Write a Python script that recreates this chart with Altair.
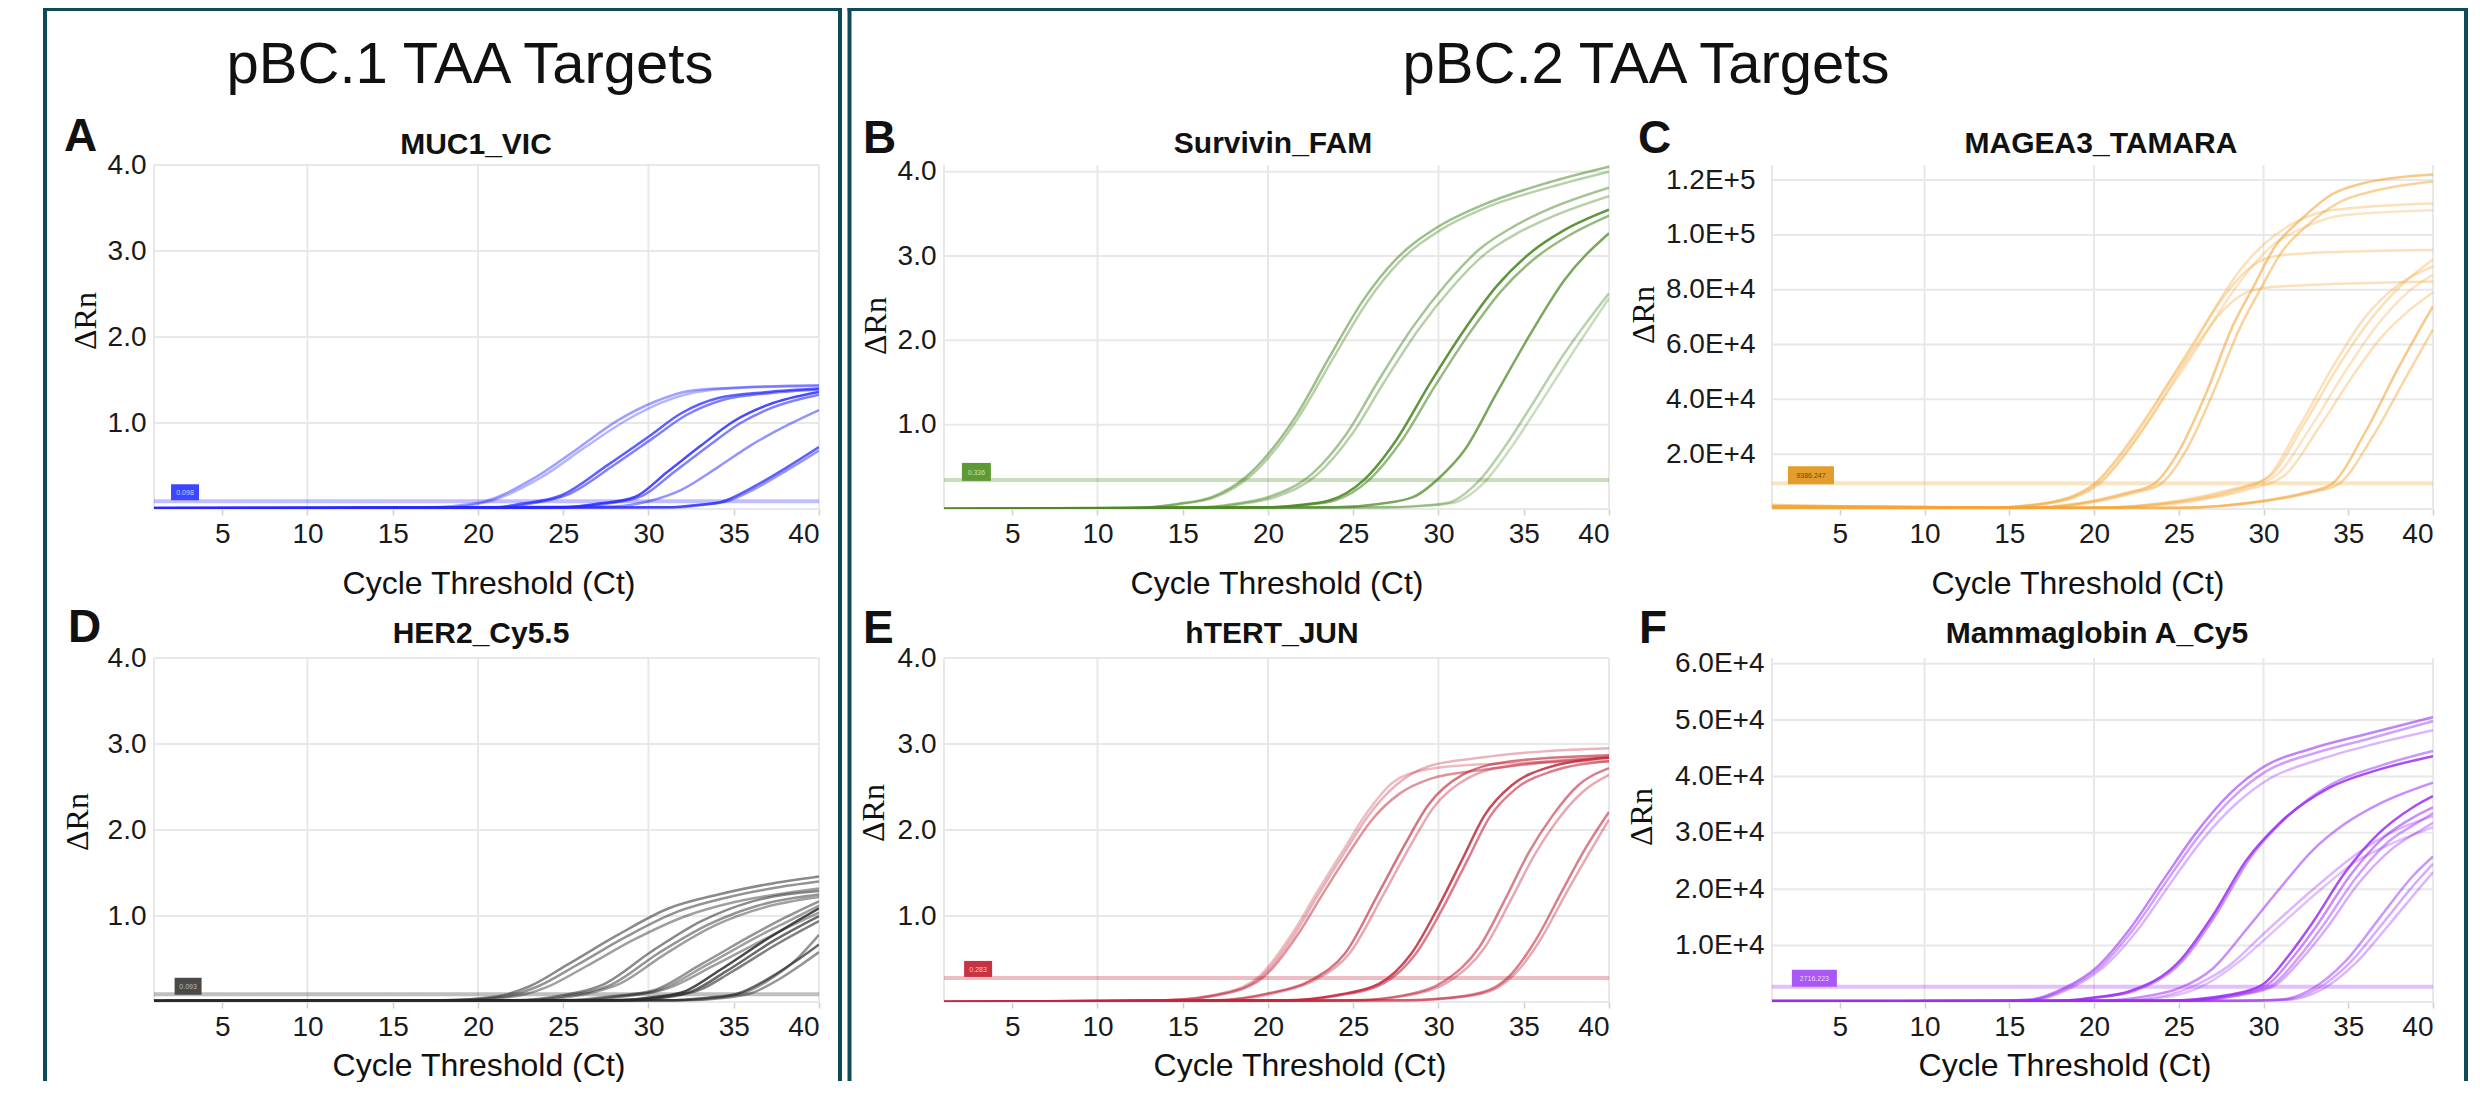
import altair as alt
import pandas as pd

# ---------------- data ----------------
CYCLE_TICKS = [5, 10, 15, 20, 25, 30, 35, 40]
GRID_CYCLES = [1, 10, 20, 30, 40]

# Panel A  MUC1_VIC  (cycle, dRn)
MUC1_CURVES = [
    [[1, 0.02], [17, 0.02], [20, 0.07], [23.3, 0.36], [25.9, 0.71], [28.2, 1.03], [30.4, 1.25], [32.3, 1.37], [35, 1.41], [40, 1.44]],
    [[1, 0.01], [18, 0.02], [20.5, 0.08], [23.8, 0.38], [26.3, 0.72], [28.6, 1.02], [30.8, 1.24], [32.8, 1.36], [35.5, 1.41], [40, 1.43]],
    [[1, 0.01], [21, 0.02], [22.5, 0.06], [24.9, 0.16], [27.6, 0.51], [30, 0.84], [31.9, 1.11], [34.1, 1.29], [37, 1.36], [40, 1.40]],
    [[1, 0.01], [21.5, 0.02], [23, 0.06], [25.3, 0.17], [27.9, 0.50], [30.3, 0.83], [32.2, 1.09], [34.4, 1.27], [37.2, 1.35], [40, 1.39]],
    [[1, 0.0], [25, 0.02], [27, 0.06], [29.2, 0.14], [31.1, 0.43], [33.1, 0.74], [35, 1.02], [37, 1.21], [40, 1.36]],
    [[1, 0.0], [25.5, 0.02], [27.5, 0.06], [29.6, 0.15], [31.5, 0.43], [33.5, 0.73], [35.4, 1.0], [37.4, 1.19], [40, 1.33]],
    [[1, 0.0], [28, 0.03], [30, 0.09], [31.9, 0.22], [34.1, 0.49], [36, 0.74], [38, 0.96], [40, 1.15]],
    [[1, 0.0], [31, 0.02], [33, 0.05], [34.3, 0.085], [36, 0.24], [38, 0.47], [40, 0.72]],
    [[1, 0.0], [31.5, 0.02], [33.3, 0.05], [34.6, 0.09], [36.2, 0.23], [38.2, 0.46], [40, 0.68]],
]
MUC1_OPACITY = [0.45, 0.35, 0.75, 0.6, 0.85, 0.6, 0.5, 0.75, 0.5]

# Panel B  Survivin_FAM
SURVIVIN_CURVES = [
    [[1, 0], [12, 0.01], [14.7, 0.06], [16.7, 0.14], [18.7, 0.38], [20, 0.65], [21.6, 1.09], [23.6, 1.8], [25.6, 2.48], [27.5, 2.96], [30, 3.35], [32.4, 3.59], [36.4, 3.87], [40, 4.06]],
    [[1, 0], [12, 0.01], [14.9, 0.06], [16.9, 0.14], [18.9, 0.38], [20.2, 0.65], [21.8, 1.09], [23.8, 1.78], [25.8, 2.45], [27.7, 2.93], [30.2, 3.32], [32.6, 3.56], [36.6, 3.82], [40, 4.0]],
    [[1, 0], [16, 0.02], [18, 0.06], [20, 0.14], [22.6, 0.42], [24.6, 0.89], [26.5, 1.53], [28.5, 2.16], [30.5, 2.68], [32.4, 3.08], [34.4, 3.35], [36.4, 3.55], [40, 3.81]],
    [[1, 0], [16.5, 0.02], [18.4, 0.06], [20.4, 0.14], [22.9, 0.41], [24.9, 0.88], [26.8, 1.5], [28.8, 2.12], [30.8, 2.63], [32.7, 3.02], [34.7, 3.28], [36.7, 3.47], [40, 3.71]],
    [[1, 0], [20, 0.02], [22, 0.05], [23.6, 0.1], [25.6, 0.34], [27.5, 0.81], [29.5, 1.49], [31.5, 2.12], [33.4, 2.64], [35.4, 3.04], [37.4, 3.31], [40, 3.55]],
    [[1, 0], [20.3, 0.02], [22.3, 0.05], [23.9, 0.1], [25.9, 0.34], [27.8, 0.8], [29.8, 1.46], [31.8, 2.08], [33.7, 2.59], [35.7, 2.98], [37.7, 3.25], [40, 3.48]],
    [[1, 0], [24, 0.02], [26.5, 0.06], [28.5, 0.14], [30.1, 0.38], [31.5, 0.69], [33.4, 1.37], [35.4, 2.08], [37.4, 2.72], [40, 3.27]],
    [[1, 0], [27, 0.02], [29, 0.04], [30.5, 0.07], [32.4, 0.34], [34, 0.77], [35.4, 1.21], [37.4, 1.85], [40, 2.56]],
    [[1, 0], [27.3, 0.02], [29.3, 0.04], [30.8, 0.07], [32.7, 0.32], [34.3, 0.74], [35.7, 1.17], [37.7, 1.8], [40, 2.5]],
]
SURVIVIN_OPACITY = [0.55, 0.4, 0.5, 0.4, 0.9, 0.6, 0.75, 0.4, 0.3]

# Panel C  MAGEA3_TAMARA  (dRn in units of 1E4)
MAGEA3_CURVES = [
    [[1, 0.15], [5, 0.1], [14, 0.05], [17, 0.2], [20, 0.9], [21.3, 1.8], [22.7, 3.0], [24.3, 4.5], [25.8, 5.9], [27.2, 7.4], [28.6, 8.7], [30.1, 9.7], [32, 10.5], [34, 10.9], [40, 11.15]],
    [[1, 0.15], [5, 0.1], [14, 0.05], [17.3, 0.2], [20.3, 0.9], [21.6, 1.8], [23, 3.0], [24.6, 4.5], [26.1, 5.9], [27.5, 7.3], [29, 8.6], [30.5, 9.6], [32.5, 10.3], [34.5, 10.7], [40, 10.9]],
    [[1, 0.1], [14, 0.05], [17, 0.2], [20, 0.9], [21.5, 1.9], [23, 3.2], [24.6, 4.8], [26.1, 6.3], [27.6, 7.7], [29, 8.7], [30.5, 9.2], [33, 9.35], [40, 9.45]],
    [[1, 0.1], [14, 0.05], [17.2, 0.2], [20.2, 0.9], [21.7, 1.9], [23.2, 3.2], [24.8, 4.8], [26.3, 6.2], [27.7, 7.3], [29, 7.9], [30.5, 8.1], [40, 8.3]],
    [[1, 0.1], [16, 0.05], [20, 0.3], [22, 0.6], [23.5, 0.9], [25, 2.1], [26.6, 4.2], [28.2, 6.7], [29.4, 8.1], [30.7, 9.6], [32.1, 10.5], [34.1, 11.5], [36, 11.9], [40, 12.2]],
    [[1, 0.1], [16.5, 0.05], [20.4, 0.3], [22.4, 0.6], [23.9, 0.9], [25.4, 2.1], [27, 4.2], [28.6, 6.6], [29.8, 8.0], [31.1, 9.4], [32.5, 10.3], [34.5, 11.2], [36.5, 11.6], [40, 11.95]],
    [[1, 0.05], [20, 0.05], [25, 0.3], [28, 0.7], [30.1, 1.1], [32.1, 3.0], [34.1, 5.2], [36, 7.0], [38, 8.2], [40, 8.85]],
    [[1, 0.05], [20, 0.05], [25.3, 0.3], [28.3, 0.7], [30.4, 1.2], [32.4, 3.1], [34.4, 5.2], [36.3, 6.9], [38.2, 8.2], [40, 9.1]],
    [[1, 0.05], [20, 0.05], [25.6, 0.3], [28.6, 0.7], [30.7, 1.2], [32.8, 3.0], [34.8, 5.0], [36.7, 6.7], [38.5, 7.9], [40, 8.55]],
    [[1, 0.05], [21, 0.05], [26, 0.3], [29, 0.7], [31.2, 1.2], [33.2, 2.9], [35.2, 4.8], [37, 6.3], [38.7, 7.3], [40, 7.9]],
    [[1, 0.05], [25, 0.05], [30, 0.3], [32.5, 0.6], [34, 0.9], [36, 2.8], [38, 5.2], [40, 7.4]],
    [[1, 0.05], [25, 0.05], [30.3, 0.3], [32.8, 0.6], [34.4, 0.9], [36.4, 2.6], [38.4, 4.8], [40, 6.55]],
]
MAGEA3_OPACITY = [0.35, 0.3, 0.35, 0.35, 0.6, 0.5, 0.35, 0.35, 0.3, 0.35, 0.6, 0.45]
MAGEA3_UNIT = 1e4

# Panel D  HER2_Cy5.5
HER2_CURVES = [
    [[1, 0.02], [18, 0.02], [21, 0.06], [23, 0.18], [25.3, 0.44], [28.2, 0.78], [31.2, 1.09], [34.1, 1.25], [37, 1.37], [40, 1.46]],
    [[1, 0.02], [18.5, 0.02], [21.5, 0.06], [23.5, 0.18], [25.8, 0.43], [28.7, 0.76], [31.7, 1.05], [34.5, 1.21], [37.2, 1.32], [40, 1.40]],
    [[1, 0.02], [19, 0.02], [22, 0.06], [24, 0.17], [26.3, 0.41], [29.2, 0.73], [32.2, 1.0], [35, 1.16], [37.5, 1.25], [40, 1.32]],
    [[1, 0.01], [22, 0.02], [25, 0.08], [27.3, 0.2], [30.2, 0.59], [33.1, 0.94], [36.1, 1.17], [40, 1.29]],
    [[1, 0.01], [22.5, 0.02], [25.5, 0.08], [27.8, 0.2], [30.6, 0.57], [33.5, 0.9], [36.4, 1.12], [40, 1.25]],
    [[1, 0.01], [23, 0.02], [26, 0.08], [28.3, 0.21], [31, 0.56], [33.9, 0.89], [36.8, 1.1], [40, 1.22]],
    [[1, 0.01], [25, 0.02], [28, 0.07], [30.2, 0.13], [33.1, 0.44], [36.1, 0.78], [38, 0.98], [40, 1.17]],
    [[1, 0.01], [25.5, 0.02], [28.4, 0.07], [30.6, 0.14], [33.5, 0.44], [36.4, 0.76], [38.3, 0.95], [40, 1.12]],
    [[1, 0.01], [26, 0.02], [28.8, 0.07], [31, 0.15], [33.8, 0.42], [36.7, 0.72], [38.5, 0.9], [40, 1.04]],
    [[1, 0.01], [28, 0.02], [30.5, 0.06], [32.2, 0.13], [34.1, 0.36], [37.1, 0.75], [40, 1.09]],
    [[1, 0.01], [28.5, 0.02], [31, 0.06], [32.6, 0.13], [34.5, 0.35], [37.4, 0.72], [40, 1.0]],
    [[1, 0.01], [29, 0.02], [31.3, 0.06], [33, 0.14], [34.8, 0.34], [37.6, 0.68], [40, 0.94]],
    [[1, 0.01], [31, 0.02], [33.5, 0.05], [35.1, 0.09], [37.1, 0.28], [38.6, 0.47], [40, 0.67]],
    [[1, 0.01], [31.5, 0.02], [34, 0.05], [35.5, 0.1], [37.4, 0.3], [38.8, 0.52], [40, 0.78]],
    [[1, 0.01], [32, 0.02], [34.5, 0.05], [36, 0.1], [37.7, 0.27], [39, 0.44], [40, 0.58]],
]
HER2_OPACITY = [0.55, 0.5, 0.45, 0.55, 0.5, 0.45, 0.5, 0.45, 0.45, 0.85, 0.7, 0.6, 0.7, 0.5, 0.5]

# Panel E  hTERT_JUN
HTERT_CURVES = [
    [[1, 0], [14, 0.02], [17.6, 0.11], [19.6, 0.29], [21.6, 0.8], [22.9, 1.23], [24.5, 1.74], [25.9, 2.17], [27.5, 2.52], [29.4, 2.74], [32.4, 2.84], [40, 2.95]],
    [[1, 0], [14, 0.02], [17.8, 0.11], [19.8, 0.3], [21.8, 0.8], [23.1, 1.22], [24.7, 1.72], [26.1, 2.12], [27.7, 2.42], [29.6, 2.6], [32.6, 2.7], [40, 2.85]],
    [[1, 0], [14, 0.02], [17.5, 0.11], [19.5, 0.3], [21.5, 0.82], [22.8, 1.25], [24.4, 1.76], [25.8, 2.2], [27.3, 2.55], [29.2, 2.7], [32, 2.76], [40, 2.8]],
    [[1, 0], [17, 0.02], [20, 0.1], [22.5, 0.25], [24.5, 0.56], [26.5, 1.27], [28, 1.82], [29.4, 2.29], [31.4, 2.64], [34.3, 2.8], [40, 2.87]],
    [[1, 0], [17.5, 0.02], [20.3, 0.1], [22.8, 0.26], [24.8, 0.57], [26.8, 1.26], [28.3, 1.8], [29.7, 2.26], [31.7, 2.6], [34.6, 2.76], [40, 2.84]],
    [[1, 0], [21, 0.02], [24, 0.08], [26.5, 0.21], [28.4, 0.56], [30, 1.11], [31.4, 1.66], [32.7, 2.17], [34.3, 2.52], [36.3, 2.72], [40, 2.84]],
    [[1, 0], [21.3, 0.02], [24.3, 0.08], [26.8, 0.22], [28.7, 0.57], [30.3, 1.11], [31.7, 1.65], [33, 2.15], [34.6, 2.49], [36.6, 2.68], [40, 2.8]],
    [[1, 0], [25, 0.02], [28, 0.08], [30.4, 0.25], [32.4, 0.64], [33.9, 1.19], [35.3, 1.74], [36.7, 2.17], [38.2, 2.52], [40, 2.72]],
    [[1, 0], [25.3, 0.02], [28.3, 0.08], [30.7, 0.25], [32.7, 0.63], [34.2, 1.17], [35.6, 1.7], [37, 2.12], [38.5, 2.45], [40, 2.64]],
    [[1, 0], [28, 0.02], [31.5, 0.07], [33.3, 0.17], [34.3, 0.33], [35.7, 0.72], [37.3, 1.31], [38.6, 1.78], [40, 2.21]],
    [[1, 0], [28.3, 0.02], [31.8, 0.07], [33.5, 0.17], [34.5, 0.33], [35.9, 0.7], [37.5, 1.27], [38.8, 1.72], [40, 2.12]],
]
HTERT_OPACITY = [0.35, 0.5, 0.3, 0.65, 0.4, 0.85, 0.6, 0.6, 0.4, 0.6, 0.4]

# Panel F  Mammaglobin A_Cy5  (dRn in units of 1E4)
MAMMA_CURVES = [
    [[1, 0.02], [14, 0.02], [16.2, 0.04], [18.2, 0.24], [20.1, 0.6], [22.1, 1.29], [24.1, 2.17], [26, 2.99], [28, 3.69], [29.9, 4.15], [32.9, 4.5], [35.8, 4.73], [40, 5.05]],
    [[1, 0.02], [14, 0.02], [16.4, 0.04], [18.4, 0.24], [20.3, 0.6], [22.3, 1.28], [24.3, 2.15], [26.2, 2.95], [28.2, 3.63], [30.1, 4.08], [33.1, 4.42], [36, 4.65], [40, 4.98]],
    [[1, 0.02], [14.5, 0.02], [16.6, 0.04], [18.6, 0.24], [20.5, 0.6], [22.5, 1.25], [24.5, 2.1], [26.4, 2.88], [28.4, 3.52], [30.3, 3.95], [33.3, 4.3], [36.2, 4.55], [40, 4.82]],
    [[1, 0.01], [18, 0.02], [20, 0.08], [22.1, 0.19], [25, 0.71], [27, 1.53], [29, 2.52], [30.9, 3.16], [33.9, 3.8], [36.8, 4.12], [40, 4.36]],
    [[1, 0.01], [18.3, 0.02], [20.3, 0.08], [22.4, 0.2], [25.2, 0.72], [27.2, 1.55], [29.2, 2.55], [31.1, 3.2], [34, 3.86], [37, 4.2], [40, 4.45]],
    [[1, 0.01], [20, 0.02], [23, 0.1], [25, 0.24], [27, 0.59], [29, 1.29], [30.9, 1.99], [32.9, 2.69], [34.8, 3.16], [36.8, 3.51], [40, 3.89]],
    [[1, 0.01], [21, 0.02], [24, 0.1], [26, 0.3], [28, 0.65], [29.9, 1.18], [32.9, 1.99], [35.8, 2.69], [37.5, 3.0], [40, 3.3]],
    [[1, 0.01], [21.5, 0.02], [24.5, 0.1], [26.5, 0.3], [28.5, 0.7], [30.4, 1.2], [33.2, 1.95], [35.5, 2.5], [37.5, 2.8], [40, 3.1]],
    [[1, 0.01], [24, 0.02], [28, 0.13], [29.9, 0.3], [31.5, 0.83], [32.9, 1.41], [34.8, 2.29], [36.8, 2.99], [38.8, 3.45], [40, 3.65]],
    [[1, 0.01], [24.5, 0.02], [28.3, 0.13], [30.2, 0.3], [31.8, 0.82], [33.2, 1.38], [35.1, 2.24], [37.1, 2.92], [39, 3.3], [40, 3.45]],
    [[1, 0.01], [25, 0.02], [28.6, 0.13], [30.5, 0.3], [32.1, 0.8], [33.5, 1.35], [35.4, 2.18], [37.4, 2.85], [39.2, 3.2], [40, 3.35]],
    [[1, 0.01], [25, 0.02], [28.8, 0.13], [30.7, 0.3], [32.3, 0.78], [33.7, 1.3], [35.6, 2.1], [37.6, 2.72], [39.3, 3.05], [40, 3.18]],
    [[1, 0.01], [27, 0.02], [30.9, 0.04], [32.9, 0.24], [34.8, 0.71], [36.8, 1.47], [38.8, 2.23], [40, 2.58]],
    [[1, 0.01], [27.5, 0.02], [31.2, 0.04], [33.2, 0.24], [35.1, 0.7], [37.1, 1.42], [39, 2.12], [40, 2.45]],
    [[1, 0.01], [28, 0.02], [31.5, 0.04], [33.5, 0.23], [35.4, 0.68], [37.4, 1.37], [39.2, 2.02], [40, 2.3]],
]
MAMMA_OPACITY = [0.6, 0.45, 0.35, 0.85, 0.5, 0.55, 0.35, 0.3, 0.85, 0.55, 0.45, 0.4, 0.5, 0.4, 0.35]
MAMMA_UNIT = 1e4

# thresholds (value, label text)
THRESHOLDS = {
    "A": (0.09, "0.098"), "B": (0.345, "0.336"), "C": (9386.247, "9386.247"),
    "D": (0.09, "0.093"), "E": (0.28, "0.283"), "F": (2716.2, "2716.223"),
}

FONT = "Liberation Sans"
BORDER = "#0d4b5b"
W1, W2, W3 = 665, 665, 661
H = 344


def curves_df(curves, opac, unit=1.0):
    rows = []
    for i, (crv, o) in enumerate(zip(curves, opac)):
        for cyc, v in crv:
            rows.append({"id": i, "cycle": cyc, "value": v * unit, "op": o})
    return pd.DataFrame(rows)


def one():
    return pd.DataFrame({"k": [0]})


def txt(text, x, y, size, weight="normal", align="center", angle=0, font=FONT, color="#111111"):
    kw = dict(align=align, baseline="alphabetic", fontSize=size, fontWeight=weight,
              font=font, color=color)
    if angle:
        kw["angle"] = angle
        kw["baseline"] = "middle"
    return alt.Chart(pd.DataFrame({"t": [text]})).mark_text(**kw).encode(
        x=alt.value(x), y=alt.value(y), text="t:N")


def vline(x, y1, y2):
    return alt.Chart(one()).mark_rule(color=BORDER, strokeWidth=4, strokeCap="square").encode(
        x=alt.value(x), y=alt.value(y1), y2=alt.value(y2))


def hline(y, x1, x2):
    return alt.Chart(one()).mark_rule(color=BORDER, strokeWidth=4, strokeCap="square").encode(
        y=alt.value(y), x=alt.value(x1), x2=alt.value(x2))


def panel(p):
    W = p["W"]
    xs = alt.Scale(domain=[1, 40], nice=False, zero=False)
    ys = alt.Scale(domain=[0, p["ymax"]], nice=False, zero=False)
    xaxis = alt.Axis(values=CYCLE_TICKS, labelFontSize=28, labelFont=FONT, labelColor="#1a1a1a",
                     tickColor="#cfcfcf", tickSize=6, tickWidth=1.5, domain=False, grid=False,
                     labelPadding=5, title="", labelOverlap=False)
    yaxis = alt.Axis(values=p["yticks"], labelExpr=p["fmt"], labelFontSize=28, labelFont=FONT,
                     labelColor="#1a1a1a", ticks=False, domain=False, grid=False,
                     labelPadding=p["lpad"], title="", labelOverlap=False)
    X = alt.X("cycle:Q", scale=xs, axis=xaxis)
    Y = alt.Y("value:Q", scale=ys, axis=yaxis)

    gx = alt.Chart(pd.DataFrame({"cycle": GRID_CYCLES})).mark_rule(
        color="#e8e8e8", strokeWidth=2).encode(x=X)
    gy = alt.Chart(pd.DataFrame({"value": [0] + p["yticks"]})).mark_rule(
        color="#e8e8e8", strokeWidth=2).encode(y=Y)

    thr_v, thr_t = p["thr"]
    thr_df = pd.DataFrame({"cycle": [p["box_x"]], "value": [thr_v], "t": [thr_t]})
    thr = alt.Chart(thr_df).mark_rule(color=p["color"], strokeWidth=4, opacity=0.3).encode(y=Y)

    df = curves_df(p["curves"], p["opac"], p.get("unit", 1.0))
    lines = alt.Chart(df).mark_line(interpolate="monotone", strokeWidth=2.5,
                                    color=p["color"], clip=True).encode(
        x=X, y=Y, detail="id:N", opacity=alt.Opacity("op:Q", scale=None))

    r = p["box_h"] / p["box_w"]
    shape = f"M-1,-{r:.3f}L1,-{r:.3f}L1,{r:.3f}L-1,{r:.3f}Z"
    box = alt.Chart(thr_df).mark_point(shape=shape, filled=True, size=p["box_w"] ** 2,
                                       opacity=1, color=p["box_color"],
                                       yOffset=p["box_dy"]).encode(x=X, y=Y)
    box_t = alt.Chart(thr_df).mark_text(fontSize=7, font=FONT, color=p["box_tc"],
                                        yOffset=p["box_dy"] + 1).encode(x=X, y=Y, text="t:N")

    lx, ly = p["letter"]
    tx, ty = p["title_pos"]
    dx, dy = p["drn"]
    xx, xy = p["xtitle"]
    layers = [gx, gy, thr, lines, box, box_t,
              txt(p["key"], lx, ly, 46, weight="bold", align="left"),
              txt(p["title"], tx, ty, 30, weight="bold"),
              txt("ΔRn", dx, dy, 32, angle=270, font="Liberation Serif"),
              txt("Cycle Threshold (Ct)", xx, xy, 32)]
    layers += p.get("extra", [])
    return alt.layer(*layers).properties(width=W, height=H)


FMT1 = "format(datum.value, '.1f')"
FMTE = "upper(format(datum.value, '.1e'))"

A = panel(dict(key="A", title="MUC1_VIC", W=W1, ymax=4.0, yticks=[1, 2, 3, 4], fmt=FMT1, lpad=8,
               color="#2a2aff", curves=MUC1_CURVES, opac=MUC1_OPACITY, thr=THRESHOLDS["A"],
               box_x=2.82, box_w=28, box_h=16, box_dy=-9, box_color="#3b46ff", box_tc="#c9d0ff",
               letter=(-90, -14), title_pos=(322, -11), drn=(-68, 156), xtitle=(335, H + 85),
               extra=[txt("pBC.1 TAA Targets", 316, -82, 58),
                      vline(-109, -156, 914), vline(686, -156, 914), hline(-156, -109, 686)]))
B = panel(dict(key="B", title="Survivin_FAM", W=W2, ymax=4.08, yticks=[1, 2, 3, 4], fmt=FMT1, lpad=8,
               color="#4e8a28", curves=SURVIVIN_CURVES, opac=SURVIVIN_OPACITY, thr=THRESHOLDS["B"],
               box_x=2.9, box_w=29, box_h=18, box_dy=-8, box_color="#5d9a35", box_tc="#c8e0b0",
               letter=(-81, -12), title_pos=(329, -12), drn=(-68, 161), xtitle=(333, H + 85),
               extra=[txt("pBC.2 TAA Targets", 702, -82, 58),
                      vline(-94.5, -156, 914), vline(1522, -156, 914), hline(-156, -94.5, 1522)]))
C = panel(dict(key="C", title="MAGEA3_TAMARA", W=W3, ymax=125500,
               yticks=[20000, 40000, 60000, 80000, 100000, 120000], fmt=FMTE, lpad=17,
               color="#f3a53a", curves=MAGEA3_CURVES, opac=MAGEA3_OPACITY, unit=MAGEA3_UNIT,
               thr=THRESHOLDS["C"], box_x=3.3, box_w=46, box_h=18, box_dy=-8,
               box_color="#e39d2a", box_tc="#6b4a10",
               letter=(-134, -12), title_pos=(329, -12), drn=(-128, 150), xtitle=(306, H + 85)))
D = panel(dict(key="D", title="HER2_Cy5.5", W=W1, ymax=4.0, yticks=[1, 2, 3, 4], fmt=FMT1, lpad=8,
               color="#2a2a2a", curves=HER2_CURVES, opac=HER2_OPACITY, thr=THRESHOLDS["D"],
               box_x=3.0, box_w=27, box_h=17, box_dy=-8, box_color="#4a4a4a", box_tc="#bdbdbd",
               letter=(-86, -16), title_pos=(327, -15), drn=(-76, 164), xtitle=(325, H + 74)))
E = panel(dict(key="E", title="hTERT_JUN", W=W2, ymax=4.0, yticks=[1, 2, 3, 4], fmt=FMT1, lpad=8,
               color="#c0283c", curves=HTERT_CURVES, opac=HTERT_OPACITY, thr=THRESHOLDS["E"],
               box_x=3.0, box_w=28, box_h=16, box_dy=-9, box_color="#c83242", box_tc="#f3c4c8",
               letter=(-81, -15), title_pos=(328, -15), drn=(-70, 155), xtitle=(356, H + 74)))
F = panel(dict(key="F", title="Mammaglobin A_Cy5", W=W3, ymax=61000,
               yticks=[10000, 20000, 30000, 40000, 50000, 60000], fmt=FMTE, lpad=8,
               color="#9a2ff5", curves=MAMMA_CURVES, opac=MAMMA_OPACITY, unit=MAMMA_UNIT,
               thr=THRESHOLDS["F"], box_x=3.5, box_w=45, box_h=17, box_dy=-8.5,
               box_color="#a957f6", box_tc="#ecd8ff",
               letter=(-133, -15), title_pos=(325, -15), drn=(-130, 159), xtitle=(293, H + 74)))


def spacer(w):
    return alt.Chart(one()).mark_point(opacity=0).encode(
        x=alt.value(0), y=alt.value(0)).properties(width=w, height=H)


chart = alt.concat(A, spacer(125), B, spacer(163), C,
                   D, spacer(125), E, spacer(163), F,
                   columns=5, spacing={"row": 149, "column": 0}, bounds="flush").properties(
    padding={"left": 34, "top": -2, "right": 0, "bottom": 0},
    background="white",
).configure_view(strokeWidth=0)

chart.save("out.html", embed_options={"renderer": "svg", "actions": False})
